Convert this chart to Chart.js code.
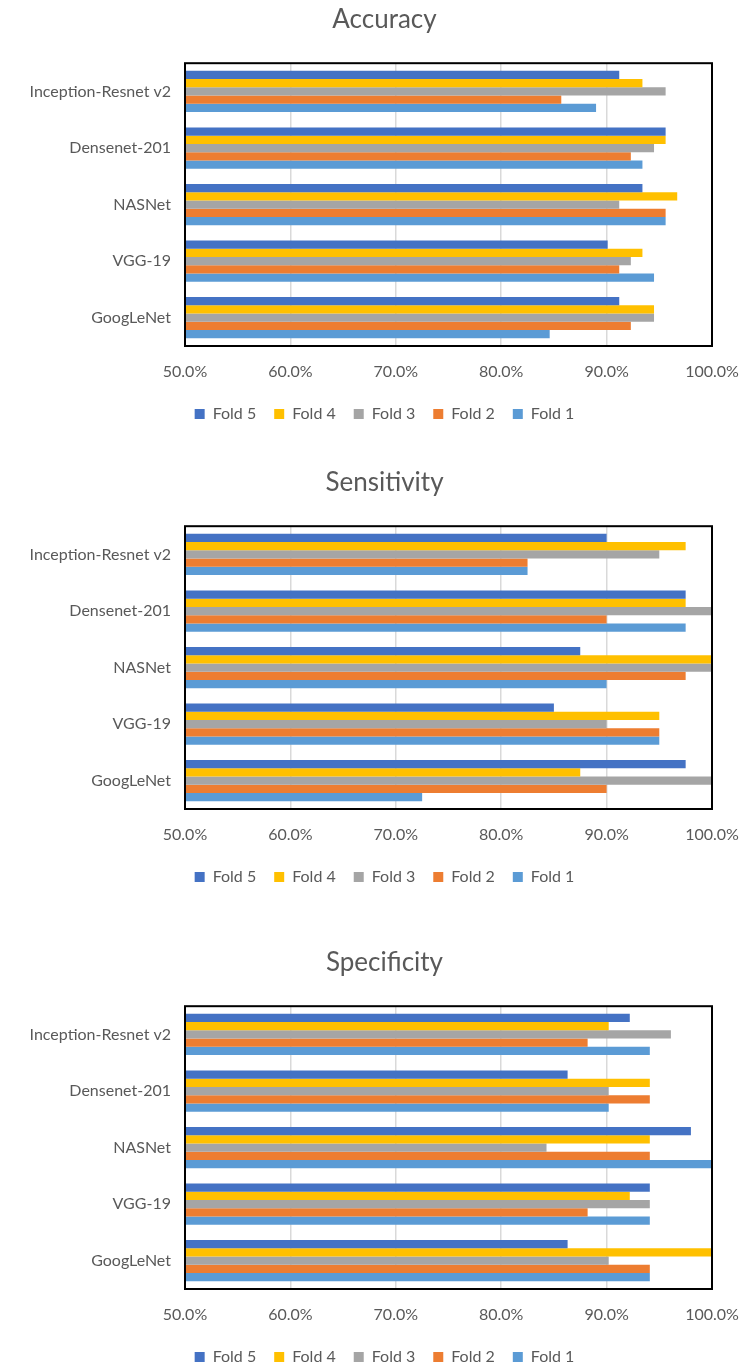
<!DOCTYPE html>
<html>
<head>
<meta charset="utf-8">
<script src="https://cdn.jsdelivr.net/npm/chart.js@4/dist/chart.umd.min.js"></script>
<style>
  html, body { margin: 0; padding: 0; background: #fff; overflow: hidden; }
  .wrap { position: absolute; left: 0; width: 745px; }
</style>
</head>
<body>
<div class="wrap" style="top:0px"><canvas id="accuracyChart" width="745" height="432"></canvas></div>
<div class="wrap" style="top:463px"><canvas id="sensitivityChart" width="745" height="432"></canvas></div>
<div class="wrap" style="top:943px"><canvas id="specificityChart" width="745" height="432"></canvas></div>
<script>
const models = ["Inception-Resnet v2", "Densenet-201", "NASNet", "VGG-19", "GoogLeNet"];
const folds = ["Fold 5", "Fold 4", "Fold 3", "Fold 2", "Fold 1"];
const foldColors = ["#4472C4", "#FFC000", "#A5A5A5", "#ED7D31", "#5B9BD5"];
const xTicks = [50, 60, 70, 80, 90, 100];

// Accuracy (%), one array per fold, in model order
const accFold5 = [91.2, 95.6, 93.4, 90.1, 91.2];
const accFold4 = [93.4, 95.6, 96.7, 93.4, 94.5];
const accFold3 = [95.6, 94.5, 91.2, 92.3, 94.5];
const accFold2 = [85.7, 92.3, 95.6, 91.2, 92.3];
const accFold1 = [89.0, 93.4, 95.6, 94.5, 84.6];

// Sensitivity (%)
const senFold5 = [90.0, 97.5, 87.5, 85.0, 97.5];
const senFold4 = [97.5, 97.5, 100.0, 95.0, 87.5];
const senFold3 = [95.0, 100.0, 100.0, 90.0, 100.0];
const senFold2 = [82.5, 90.0, 97.5, 95.0, 90.0];
const senFold1 = [82.5, 97.5, 90.0, 95.0, 72.5];

// Specificity (%)
const speFold5 = [92.2, 86.3, 98.0, 94.1, 86.3];
const speFold4 = [90.2, 94.1, 94.1, 92.2, 100.0];
const speFold3 = [96.1, 90.2, 84.3, 94.1, 90.2];
const speFold2 = [88.2, 94.1, 94.1, 88.2, 94.1];
const speFold1 = [94.1, 90.2, 100.0, 94.1, 94.1];

const textColor = "#595959";
const fontFamily = "Lato, 'Open Sans', sans-serif";

// black frame round the plot area
const framePlugin = {
    id: "frame",
    afterDatasetsDraw(chart) {
        const { ctx, chartArea: a } = chart;
        ctx.save();
        ctx.strokeStyle = "#000000";
        ctx.lineWidth = 2;
        ctx.strokeRect(a.left, a.top, a.right - a.left, a.bottom - a.top);
        ctx.restore();
    },
};

function makeChart(id, title, series) {
    const data = {
        labels: models,
        datasets: series.map((values, i) => ({
            label: folds[i],
            data: values,
            backgroundColor: foldColors[i],
            borderWidth: 0,
            categoryPercentage: 0.73,
            barPercentage: 1.0,
        })),
    };

    const config = {
        type: "bar",
        data: data,
        plugins: [framePlugin],
        options: {
            indexAxis: "y",
            responsive: false,
            animation: false,
            layout: { padding: { left: 24, right: 0, top: 0, bottom: 0 } },
            plugins: {
                tooltip: { enabled: false },
                title: {
                    display: true,
                    text: title,
                    color: textColor,
                    font: { family: fontFamily, size: 26, weight: "normal" },
                    padding: { top: 4, bottom: 28 },
                },
                legend: {
                    display: true,
                    position: "bottom",
                    labels: {
                        color: textColor,
                        font: { family: fontFamily, size: 16 },
                        boxWidth: 10,
                        boxHeight: 10,
                        padding: 18,
                    },
                },
            },
            scales: {
                x: {
                    type: "linear",
                    min: 50,
                    max: 100,
                    afterBuildTicks: (scale) => {
                        scale.ticks = xTicks.map((v) => ({ value: v }));
                    },
                    afterFit: (scale) => {
                        scale.height = 42;
                        scale.paddingLeft = 0;
                        scale.paddingRight = 33;
                    },
                    grid: { color: "#D9D9D9", lineWidth: 1.5, drawTicks: false },
                    border: { display: false },
                    ticks: {
                        padding: 16,
                        color: textColor,
                        font: { family: fontFamily, size: 16 },
                        callback: (v) => v.toFixed(1) + "%",
                    },
                },
                y: {
                    afterFit: (scale) => {
                        scale.width = 161;
                    },
                    grid: { display: false, drawTicks: false },
                    border: { display: false },
                    ticks: {
                        padding: 14,
                        color: textColor,
                        font: { family: fontFamily, size: 16 },
                    },
                },
            },
        },
    };

    return new Chart(document.getElementById(id), config);
}

makeChart("accuracyChart", "Accuracy", [accFold5, accFold4, accFold3, accFold2, accFold1]);
makeChart("sensitivityChart", "Sensitivity", [senFold5, senFold4, senFold3, senFold2, senFold1]);
makeChart("specificityChart", "Specificity", [speFold5, speFold4, speFold3, speFold2, speFold1]);
</script>
</body>
</html>
